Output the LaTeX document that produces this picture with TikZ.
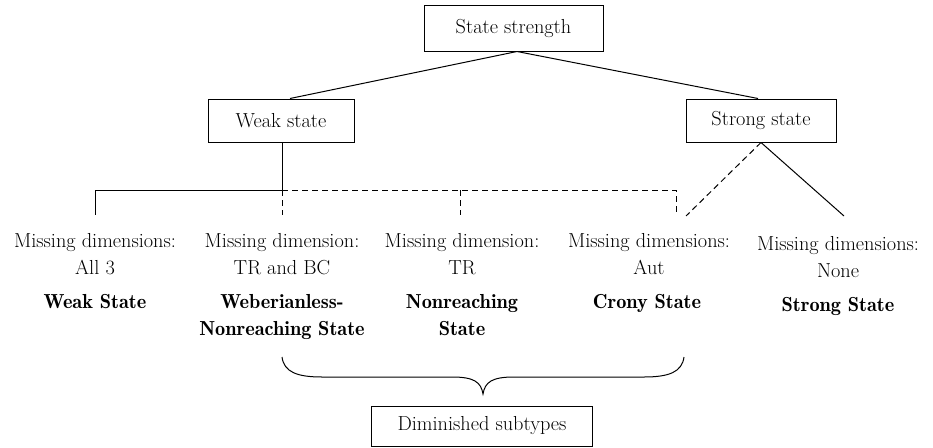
\documentclass[tikz,border=0pt]{standalone}
\begin{document}
\begin{tikzpicture}[x=1pt,y=-1pt,
  box/.style={draw,line width=1pt,minimum height=43pt,inner sep=0pt,font=\fontsize{20.3}{27}\selectfont},
  desc/.style={align=center,inner sep=0pt,anchor=base,font=\fontsize{20.3}{27}\selectfont},
  title/.style={align=center,inner sep=0pt,anchor=base,font=\fontsize{20.3}{27}\selectfont\fontseries{b}\selectfont},
  conn/.style={line width=1pt},
  dconn/.style={line width=1pt,dash pattern=on 6pt off 4pt}]
\useasboundingbox (0,0) rectangle (933,447);
% boxes
\node[box,minimum width=179pt,minimum height=46pt] (top) at (513.5,28) {State strength};
\node[box,minimum width=146pt] (weak) at (281,120.5) {Weak state};
\node[box,minimum width=150pt] (strong) at (761,120.5) {Strong state};
\node[box,minimum width=221pt,minimum height=40pt] (dim) at (482,426) {Diminished subtypes};
% columns (base anchor = baseline of the last line)
\node[desc] (d1) at (95,274) {Missing dimensions:\\All 3};
\node[title] (t1) at (95,308) {Weak State};
\node[desc] (d2) at (282,274) {Missing dimension:\\TR and BC};
\node[title] (t2) at (282,335) {Weberianless-\\Nonreaching State};
\node[desc] (d3) at (462,274) {Missing dimension:\\TR};
\node[title] (t3) at (462,335) {Nonreaching\\State};
\node[desc] (d4) at (649,274) {Missing dimensions:\\Aut};
\node[title] (t4) at (647,308) {Crony State};
\node[desc] (d5) at (838,277) {Missing dimensions:\\None};
\node[title] (t5) at (838,311) {Strong State};
% connector points
\coordinate (j) at (282,190);
\coordinate (h1) at (95,190);
\coordinate (e1) at (95,215);
\coordinate (e2) at (282,215);
\coordinate (h3) at (460,190);
\coordinate (e3) at (460,215);
\coordinate (h4) at (676,190);
\coordinate (e4) at (676,215);
\coordinate (s4) at (686,216);
\coordinate (s5) at (844,216);
% connectors
\draw[conn] ([xshift=3.5pt]top.south) -- ([xshift=9pt]weak.north);
\draw[conn] ([xshift=3.5pt]top.south) -- ([xshift=-3pt]strong.north);
\draw[conn] (weak.south -| j) -- (j);
\draw[conn] (j) -- (h1) -- (e1);
\draw[dconn] (j) -- (h4) -- (e4);
\draw[dconn] (j) -- (e2);
\draw[dconn] (h3) -- (e3);
\draw[dconn] (strong.south) -- (s4);
\draw[conn] (strong.south) -- (s5);
% brace
\draw[conn] (282,357) .. controls (284,372) and (297,377) .. (322,377) -- (452,377)
  .. controls (474,377) and (481,382) .. (483,394)
  .. controls (485,382) and (492,377) .. (514,377) -- (644,377)
  .. controls (669,377) and (682,372) .. (684,357);
\end{tikzpicture}
\end{document}
